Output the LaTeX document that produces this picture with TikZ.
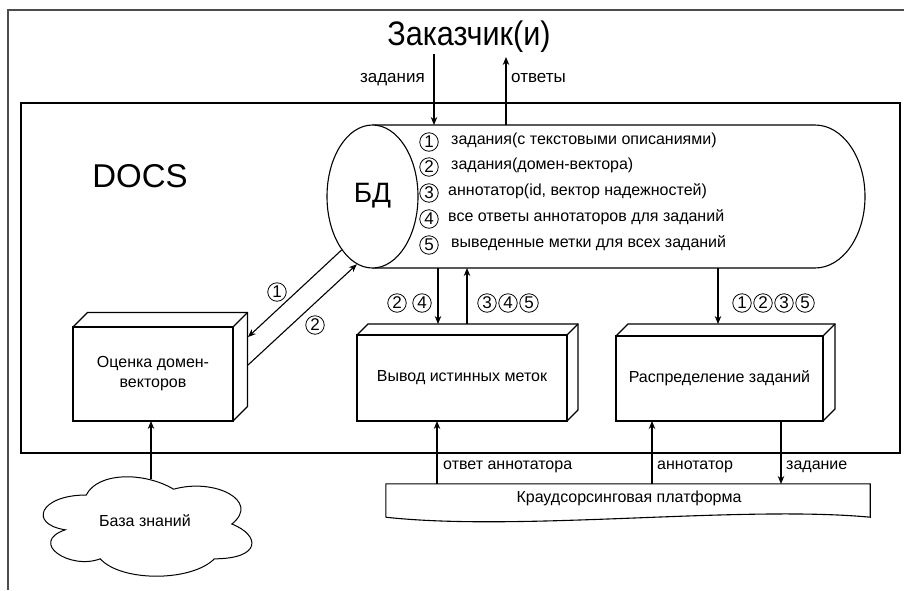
\documentclass[tikz,border=0pt]{standalone}
\usepackage{fontspec}
\setmainfont{Liberation Sans}
\usetikzlibrary{arrows.meta,shapes.geometric}

\tikzset{
  line/.style={line width=1.1pt},
  arr/.style={line width=1.1pt,-{Stealth[length=8pt,width=6.5pt]}},
  lbl/.style={font=\fontsize{16}{18}\selectfont,inner sep=0pt},
  biglbl/.style={font=\fontsize{17}{19}\selectfont,inner sep=0pt},
  num/.style={circle,draw,line width=0.8pt,inner sep=0pt,minimum size=18.5pt,
    font=\fontsize{17}{17}\selectfont},
  front/.style={draw,line width=1.1pt,inner sep=0pt,outer sep=0pt,align=center,
    font=\fontsize{16}{20}\selectfont},
}
% top and side faces of a box whose front face is node #1, depth #2
\newcommand\boxfaces[2]{%
  \draw[line] (#1.north west) -- ++(#2,-#2) -- ([shift={(#2,-#2)}]#1.north east)
    -- ([shift={(#2,-#2)}]#1.south east) -- (#1.south east);
  \draw[line] (#1.north east) -- ++(#2,-#2);}

\begin{document}
\begin{tikzpicture}[x=1pt,y=-1pt]
\useasboundingbox (0,0) rectangle (904,590);
\fill[white] (0,0) rectangle (904,590);

% page frame
\draw[line width=1.4pt,black!70] (8,590) -- (8,10) -- (904,10);

% system boundary
\node[draw,line width=1.1pt,minimum width=879pt,minimum height=350pt,inner sep=0pt] (docs) at (460.5,278) {};
\node[font=\fontsize{33}{36}\selectfont,inner sep=0pt] (docsname) at (140,176) {DOCS};

% customer
\node[font=\fontsize{34}{36}\selectfont,inner sep=0pt,anchor=mid] (cust) at (469,43) {\scalebox{0.9}[1]{Заказчик(и)}};
\node[biglbl,anchor=mid east] (lblord) at (425,80) {задания};
\node[biglbl,anchor=mid west] (lblans) at (511,80) {ответы};

% database cylinder
\draw[line] (372.5,125) -- (815,125) arc[start angle=-90,end angle=90,x radius=50,y radius=71.5] -- (372.5,268);
\node[draw,ellipse,line width=1.1pt,fill=white,minimum width=91pt,minimum height=143pt,inner sep=0pt] (db) at (372.5,196.5) {};
\node[font=\fontsize{28}{30}\selectfont,inner sep=0pt] (dbname) at (372.5,196) {БД};

% database contents
\node[num] (l1) at (429,142) {1};
\node[num] (l2) at (429,167) {2};
\node[num] (l3) at (429,193) {3};
\node[num] (l4) at (429,219) {4};
\node[num] (l5) at (429,245) {5};
\node[lbl,anchor=mid west] (t1) at (451,142) {задания(с текстовыми описаниями)};
\node[lbl,anchor=mid west] (t2) at (451,167) {задания(домен-вектора)};
\node[lbl,anchor=mid west] (t3) at (448,193) {аннотатор(id, вектор надежностей)};
\node[lbl,anchor=mid west] (t4) at (448,219) {все ответы аннотаторов для заданий};
\node[lbl,anchor=mid west] (t5) at (451,245) {выведенные метки для всех заданий};

% processing modules
\node[front,minimum width=160pt,minimum height=94pt] (est) at (153,374) {Оценка домен-\\векторов};
\boxfaces{est}{14.5}
\node[front,minimum width=210pt,minimum height=86pt] (infer) at (462,378) {Вывод истинных меток};
\boxfaces{infer}{11}
\node[front,minimum width=207pt,minimum height=85pt] (distr) at (719.5,378.5) {Распределение заданий};
\boxfaces{distr}{12}

% knowledge base cloud
\node[inner sep=0pt,minimum width=209pt,minimum height=100pt] (kb) at (147.5,527) {};
\draw[line width=1pt,shift={(28,466)},x=233pt,y=-116pt]
  (0.25,0.25) .. controls (0.05,0.25) and (0,0.5) .. (0.16,0.55)
  .. controls (0,0.66) and (0.18,0.9) .. (0.31,0.8)
  .. controls (0.4,1) and (0.7,1) .. (0.8,0.8)
  .. controls (1,0.8) and (1,0.6) .. (0.875,0.5)
  .. controls (1,0.3) and (0.8,0.1) .. (0.625,0.2)
  .. controls (0.5,0.05) and (0.3,0.05) .. (0.25,0.25) -- cycle;
\node[lbl,anchor=mid] (kbname) at (145,524) {База знаний};

% crowdsourcing platform
\node[lbl,minimum width=484pt,minimum height=33pt] (plat) at (628,500.5) {};
\draw[line] (plat.south west) -- (plat.north west) -- (plat.north east) -- (plat.south east)
  .. controls (740,505) and (520,532) .. (plat.south west);
\node[lbl,anchor=mid] (platname) at (629,500) {Краудсорсинговая платформа};

% connector ends
\coordinate (ordA) at (434,54);   \coordinate (ordB) at (434,125);
\coordinate (ansA) at (506,125);  \coordinate (ansB) at (506,57);
\coordinate (estIn) at (248,337); \coordinate (estOut) at (248,365);
\coordinate (infA) at (438,268);  \coordinate (infB) at (438,324);
\coordinate (infC) at (467,324);  \coordinate (infD) at (467,268);
\coordinate (disA) at (718,268);  \coordinate (disB) at (718,324);
\coordinate (kbTop) at (151,479); \coordinate (estBot) at (151,421);
\coordinate (platA) at (437,484); \coordinate (infBot) at (437,421);
\coordinate (platB) at (652,484); \coordinate (disBot) at (652,421);
\coordinate (disBot2) at (781,421); \coordinate (platC) at (781,484);

% connectors
\draw[arr] (ordA) -- (ordB);
\draw[arr] (ansA) -- (ansB);
\draw[arr] (db.240.5) -- (estIn);
\draw[arr] (estOut) -- (db.257);
\draw[arr] (infA) -- (infB);
\draw[arr] (infC) -- (infD);
\draw[arr] (disA) -- (disB);
\draw[arr] (kbTop) -- (estBot);
\draw[arr] (platA) -- (infBot);
\draw[arr] (platB) -- (disBot);
\draw[arr] (disBot2) -- (platC);

% connector labels
\node[num] (d1) at (277,292) {1};
\node[num] (d2) at (315,325) {2};
\node[num] (a2) at (397,303) {2};
\node[num] (a4) at (422,303) {4};
\node[num] (b3) at (487,303) {3};
\node[num] (b4) at (508,303) {4};
\node[num] (b5) at (529,303) {5};
\node[num] (c1) at (742,303) {1};
\node[num] (c2) at (763,303) {2};
\node[num] (c3) at (784,303) {3};
\node[num] (c5) at (805,303) {5};
\node[lbl,anchor=mid west] (lblresp) at (443,467) {ответ аннотатора};
\node[lbl,anchor=mid west] (lblann) at (657,467) {аннотатор};
\node[lbl,anchor=mid west] (lbltask) at (786,467) {задание};
\end{tikzpicture}
\end{document}
